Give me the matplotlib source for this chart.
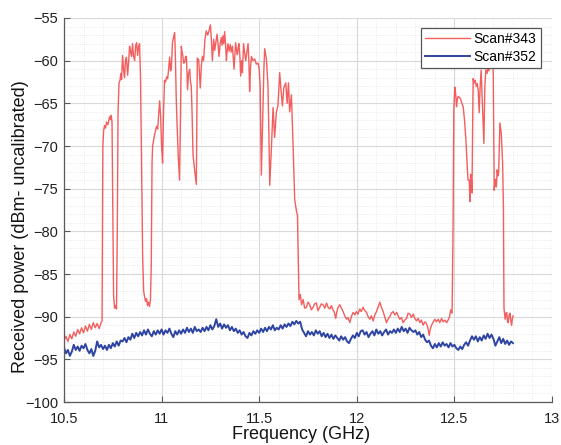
import matplotlib

matplotlib.use("Agg")

import numpy as np  # noqa: E402
from matplotlib import pyplot as plt  # noqa: E402
from matplotlib.ticker import FormatStrFormatter, MultipleLocator  # noqa: E402

plt.rcParams["font.family"] = ["Liberation Sans", "DejaVu Sans"]

# Scan#343: irregular sweep points (GHz, dBm)
scan343_freq = [
    10.50, 10.51, 10.52, 10.53, 10.54, 10.55, 10.56, 10.57, 10.58, 10.59,
    10.60, 10.61, 10.62, 10.63, 10.64, 10.65, 10.66, 10.67, 10.68, 10.69, 10.695,
    10.699, 10.703, 10.708, 10.713, 10.718, 10.725, 10.733, 10.738, 10.742, 10.746,
    10.750, 10.754, 10.759, 10.764, 10.769, 10.773, 10.777, 10.782, 10.787, 10.791,
    10.795, 10.800, 10.805, 10.810, 10.815, 10.820, 10.826, 10.831, 10.836, 10.841,
    10.846, 10.851, 10.856, 10.862, 10.867, 10.872, 10.877, 10.882, 10.887, 10.892,
    10.897, 10.903, 10.908, 10.913, 10.918, 10.923, 10.928, 10.933, 10.938, 10.943,
    10.947, 10.951,
    10.954, 10.960, 10.966, 10.974, 10.980, 10.986, 10.990, 10.995, 11.000, 11.005,
    11.010, 11.015, 11.020, 11.026, 11.031, 11.036, 11.041, 11.046, 11.050, 11.056,
    11.062, 11.067, 11.071, 11.075, 11.080, 11.086, 11.092, 11.097, 11.101, 11.105,
    11.108, 11.113, 11.118, 11.123, 11.127, 11.133, 11.138, 11.144, 11.148, 11.152,
    11.156, 11.161, 11.170, 11.178, 11.183, 11.190, 11.198, 11.204, 11.209, 11.215,
    11.222, 11.229, 11.236, 11.243, 11.250, 11.255, 11.260, 11.267, 11.272, 11.277,
    11.284, 11.289, 11.294, 11.300, 11.306, 11.310, 11.314, 11.318, 11.323, 11.328,
    11.332, 11.336, 11.340, 11.346, 11.352, 11.357, 11.363, 11.367, 11.371, 11.379,
    11.384, 11.388, 11.392, 11.396, 11.401, 11.405, 11.410, 11.414, 11.420, 11.426,
    11.431, 11.437, 11.443, 11.447, 11.451, 11.455, 11.460, 11.468, 11.477, 11.485,
    11.494, 11.500, 11.505, 11.511, 11.519, 11.524, 11.528, 11.533, 11.537, 11.545,
    11.550, 11.554, 11.563, 11.571, 11.579, 11.588, 11.596, 11.605, 11.610, 11.614,
    11.619, 11.626, 11.636, 11.643, 11.650, 11.656, 11.665, 11.673, 11.682, 11.690,
    11.696, 11.704, 11.711,
    11.717, 11.725, 11.733, 11.742, 11.750, 11.759, 11.767, 11.776, 11.784, 11.793,
    11.801, 11.810, 11.818, 11.827, 11.836, 11.845, 11.853, 11.862, 11.870, 11.878,
    11.885, 11.892, 11.898, 11.904, 11.913, 11.921, 11.930, 11.938, 11.947, 11.955,
    11.964, 11.972, 11.981, 11.990, 11.998, 12.006, 12.015, 12.023, 12.032, 12.041,
    12.050, 12.058, 12.067, 12.075, 12.084, 12.092, 12.101, 12.110, 12.118, 12.126,
    12.135, 12.143, 12.152, 12.160, 12.169, 12.177, 12.186, 12.195, 12.204, 12.212,
    12.220, 12.229, 12.237, 12.246, 12.255, 12.263, 12.272, 12.280, 12.289, 12.297,
    12.306, 12.314, 12.323, 12.331, 12.340, 12.349, 12.357, 12.364, 12.371, 12.377,
    12.383, 12.392, 12.400, 12.408, 12.417, 12.425, 12.434, 12.442, 12.451, 12.460,
    12.468, 12.475, 12.481, 12.488, 12.493,
    12.497, 12.502, 12.507, 12.511, 12.515, 12.519, 12.525, 12.532, 12.538, 12.545,
    12.552, 12.559, 12.566, 12.570, 12.576, 12.580, 12.583, 12.587, 12.590, 12.596,
    12.601, 12.607, 12.612, 12.617, 12.622, 12.627, 12.632, 12.637, 12.641, 12.645,
    12.651, 12.656, 12.661, 12.667, 12.672, 12.677, 12.682, 12.689, 12.695, 12.699,
    12.704, 12.708, 12.711, 12.715, 12.719, 12.723, 12.727, 12.733, 12.740, 12.747,
    12.751, 12.754, 12.760, 12.764, 12.768, 12.772, 12.776, 12.780, 12.785, 12.789,
    12.793, 12.797, 12.801,
]
scan343_power = [
    -92.8, -92.3, -92.9, -92.1, -92.6, -91.8, -92.3, -91.5, -92.0, -91.3,
    -91.9, -91.1, -91.7, -90.9, -91.5, -90.7, -91.3, -90.8, -91.4, -90.7, -90.5,
    -70.0, -68.2, -67.6, -67.9, -67.2, -67.5, -66.6, -66.9, -66.4, -67.2,
    -78.0, -87.5, -89.0, -88.7, -89.1, -80.0, -66.0, -62.6, -62.3, -61.5,
    -62.2, -59.4, -61.0, -62.0, -60.0, -59.6, -61.7, -60.2, -58.3, -59.0,
    -59.5, -58.0, -59.4, -60.0, -58.2, -57.9, -59.4, -58.4, -58.0, -62.0,
    -72.0, -83.0, -87.0, -87.7, -88.2, -87.9, -88.7, -88.3, -88.8, -88.0,
    -84.0, -72.0,
    -70.0, -69.2, -68.5, -67.7, -68.0, -66.0, -64.7, -66.5, -70.0, -72.0,
    -66.0, -62.3, -62.5, -61.9, -62.1, -61.0, -59.6, -61.2, -60.8, -57.8,
    -57.2, -56.7, -60.0, -64.4, -68.0, -71.5, -74.0, -66.0, -58.3, -59.0,
    -59.3, -60.3, -60.2, -59.5, -59.5, -63.4, -61.5, -61.0, -62.5, -63.0,
    -66.0, -71.0, -73.0, -74.5, -59.7, -59.9, -63.2, -60.5, -59.5, -60.0,
    -57.5, -56.5, -57.0, -56.5, -55.8, -57.5, -60.0, -57.5, -58.8, -58.0,
    -56.9, -58.0, -59.5, -58.0, -57.3, -58.2, -57.1, -58.0, -56.6, -58.3,
    -60.0, -58.8, -58.0, -58.9, -58.1, -59.0, -58.3, -59.6, -61.0, -57.9,
    -58.8, -59.3, -58.5, -58.0, -59.5, -61.8, -60.0, -61.4, -58.0, -59.2,
    -60.0, -59.0, -58.0, -60.0, -63.6, -61.0, -59.5, -60.0, -59.8, -60.4,
    -60.3, -61.0, -63.0, -73.4, -66.0, -61.0, -58.6, -59.3, -59.8, -63.0,
    -69.0, -74.6, -70.0, -65.5, -69.0, -66.0, -65.3, -61.4, -63.0, -64.0,
    -65.3, -63.2, -62.6, -65.0, -62.6, -66.0, -64.0, -69.5, -76.3, -77.5,
    -78.1, -88.0, -87.4,
    -88.6, -88.0, -89.0, -88.9, -88.3, -88.6, -89.2, -88.9, -88.5, -88.4,
    -89.3, -88.9, -88.5, -88.6, -89.0, -88.4, -88.9, -89.1, -88.7, -89.2,
    -89.5, -90.2, -89.4, -88.9, -88.6, -89.0, -89.4, -89.9, -90.3, -90.1,
    -90.7, -90.0, -89.5, -89.8, -89.4, -89.7, -89.1, -89.4, -88.9, -89.3,
    -89.5, -90.0, -90.3, -89.9, -90.5, -89.8, -89.4, -88.8, -88.3, -88.9,
    -89.4, -90.0, -90.7, -90.3, -90.0, -89.6, -89.4, -89.8, -89.5, -89.9,
    -90.3, -90.1, -90.7, -90.4, -90.2, -89.6, -89.7, -90.1, -89.7, -90.2,
    -90.5, -90.2, -90.7, -90.4, -91.0, -90.6, -90.8, -91.3, -92.2, -91.4,
    -91.0, -90.6, -90.3, -90.6, -90.3, -90.7, -90.2, -90.6, -90.4, -90.7,
    -90.4, -90.0, -89.2, -89.6, -80.0,
    -65.8, -63.1, -64.0, -65.4, -64.5, -64.2, -64.3, -64.5, -65.0, -65.4,
    -67.0, -69.3, -72.5, -74.0, -74.0, -76.5, -73.3, -74.0, -75.5, -62.1,
    -62.6, -62.3, -63.0, -62.7, -63.5, -66.1, -63.0, -61.1, -63.5, -66.0,
    -69.7, -63.0, -61.1, -61.5, -60.7, -61.2, -60.0, -59.5, -60.0, -61.5,
    -75.2, -74.0, -73.9, -74.8, -72.8, -73.5, -73.0, -67.3, -68.5, -72.0,
    -77.0, -89.0, -90.3, -89.6, -89.5, -90.6, -90.7, -89.8, -89.6, -90.5,
    -91.0, -90.2, -89.9,
]

# Scan#352: regular 10 MHz sweep from 10.50 to 12.80 GHz
scan352_freq = np.round(np.arange(1050, 1281) / 100, 2)
scan352_power = [
    -93.6, -94.3, -93.9, -94.6, -94.1, -93.3, -93.9, -93.5, -94.0, -93.4,
    -93.7, -93.2, -93.9, -94.3, -93.8, -94.6, -94.0, -92.9, -93.6, -93.3,
    -93.8, -93.4, -93.9, -93.3, -93.7, -93.1, -93.5, -92.9, -93.4, -92.8,
    -92.9, -92.5, -93.0, -92.4, -92.7, -92.0, -92.5, -91.9, -92.3, -91.8,
    -92.2, -91.6, -92.1, -91.5, -92.0, -92.3, -91.7, -92.1, -91.6, -92.0,
    -91.5, -92.1, -91.6, -91.9, -91.4, -92.0, -92.4, -91.7, -92.1, -91.6,
    -92.0, -91.5, -91.9, -91.3, -91.8, -91.4, -91.9, -91.2, -91.7, -91.5,
    -91.8, -91.3, -91.7, -91.2, -91.6, -91.0, -91.5, -91.1, -90.3, -91.2,
    -90.8, -91.4, -90.9, -91.3, -91.0, -91.6, -91.2, -91.7, -91.4, -91.9,
    -91.6, -92.1, -91.8, -92.3, -92.5, -91.9, -92.2, -91.7, -92.0, -91.6,
    -91.9, -91.4, -91.8, -91.3, -91.7, -91.2, -91.5, -91.0, -91.6, -91.3,
    -91.5, -91.0, -91.4, -90.9, -91.2, -90.8, -91.1, -90.6, -90.9, -90.5,
    -90.8, -90.6, -91.5, -91.9, -92.3, -91.7, -92.1, -91.8, -92.2, -91.6,
    -92.0, -91.7, -92.3, -91.9, -92.4, -92.0, -92.5, -92.1, -92.6, -92.2,
    -92.5, -92.8, -92.3, -92.7, -92.4, -92.9, -93.1, -92.6, -92.2, -92.5,
    -91.9, -92.3, -91.7, -91.6, -92.1, -91.8, -92.4, -92.0, -91.7, -92.2,
    -91.5, -92.0, -91.7, -92.2, -91.8, -91.5, -92.1, -91.7, -91.9, -91.5,
    -91.9, -91.4, -91.8, -91.2, -91.7, -91.4, -91.9, -91.3, -91.6, -91.8,
    -91.6, -92.1, -91.8, -92.4, -92.1, -92.7, -93.0, -92.8, -93.4, -93.7,
    -93.2, -93.6, -93.1, -93.5, -93.0, -93.4, -93.2, -93.6, -93.1, -93.5,
    -93.3, -93.7, -93.9, -93.5, -93.8, -93.3, -93.0, -93.4, -92.8, -92.3,
    -92.7, -92.3, -92.9, -92.4, -92.8, -92.2, -92.6, -92.0, -92.5, -92.1,
    -92.6, -93.4, -92.9, -92.4, -93.1, -92.6, -93.2, -92.8, -93.3, -92.9, -93.1,
]

fig = plt.figure(figsize=(5.61, 4.45), dpi=100)
ax = fig.add_axes([64 / 561, 1 - 402 / 445, 488 / 561, 384 / 445])

ax.plot(scan343_freq, scan343_power, color="#f24c4c", linewidth=1.0, alpha=0.9, label="Scan#343")
ax.plot(scan352_freq, scan352_power, color="#2e44a2", linewidth=1.4, label="Scan#352")

ax.set_xlim(10.5, 13)
ax.set_ylim(-100, -55)
ax.xaxis.set_major_locator(MultipleLocator(0.5))
ax.xaxis.set_minor_locator(MultipleLocator(0.1))
ax.yaxis.set_major_locator(MultipleLocator(5))
ax.yaxis.set_minor_locator(MultipleLocator(1))
ax.xaxis.set_major_formatter(FormatStrFormatter("%g"))

ax.grid(True, which="major", color="#d9d9d9", linewidth=0.8)
ax.grid(True, which="minor", color="#e3e3e3", linewidth=0.6, linestyle=":")
ax.set_axisbelow(True)

for side in ("top", "right"):
    ax.spines[side].set_visible(False)
for side in ("left", "bottom"):
    ax.spines[side].set_color("#5a5a5a")
    ax.spines[side].set_linewidth(0.9)

ax.tick_params(which="major", direction="in", length=4, width=0.8, color="#5a5a5a",
               labelsize=10.5, labelcolor="#202020")
ax.tick_params(axis="x", which="major", pad=7)
ax.tick_params(axis="y", which="major", pad=4)
ax.tick_params(which="minor", length=0)

ax.set_xlabel("Frequency (GHz)", fontsize=13, color="#141414")
ax.set_ylabel("Received power (dBm- uncalibrated)", fontsize=13, color="#141414")
ax.xaxis.set_label_coords(0.485, -0.062)
ax.yaxis.set_label_coords(-0.072, 0.458)

leg = ax.legend(loc="upper right", bbox_to_anchor=(0.977, 0.974), fontsize=10,
                fancybox=False, framealpha=1, edgecolor="#555555", handlelength=3.25,
                borderpad=0.3, labelspacing=0.25, handletextpad=0.25, borderaxespad=0)
leg.get_frame().set_linewidth(0.9)

fig.savefig("out.png", dpi=100)
